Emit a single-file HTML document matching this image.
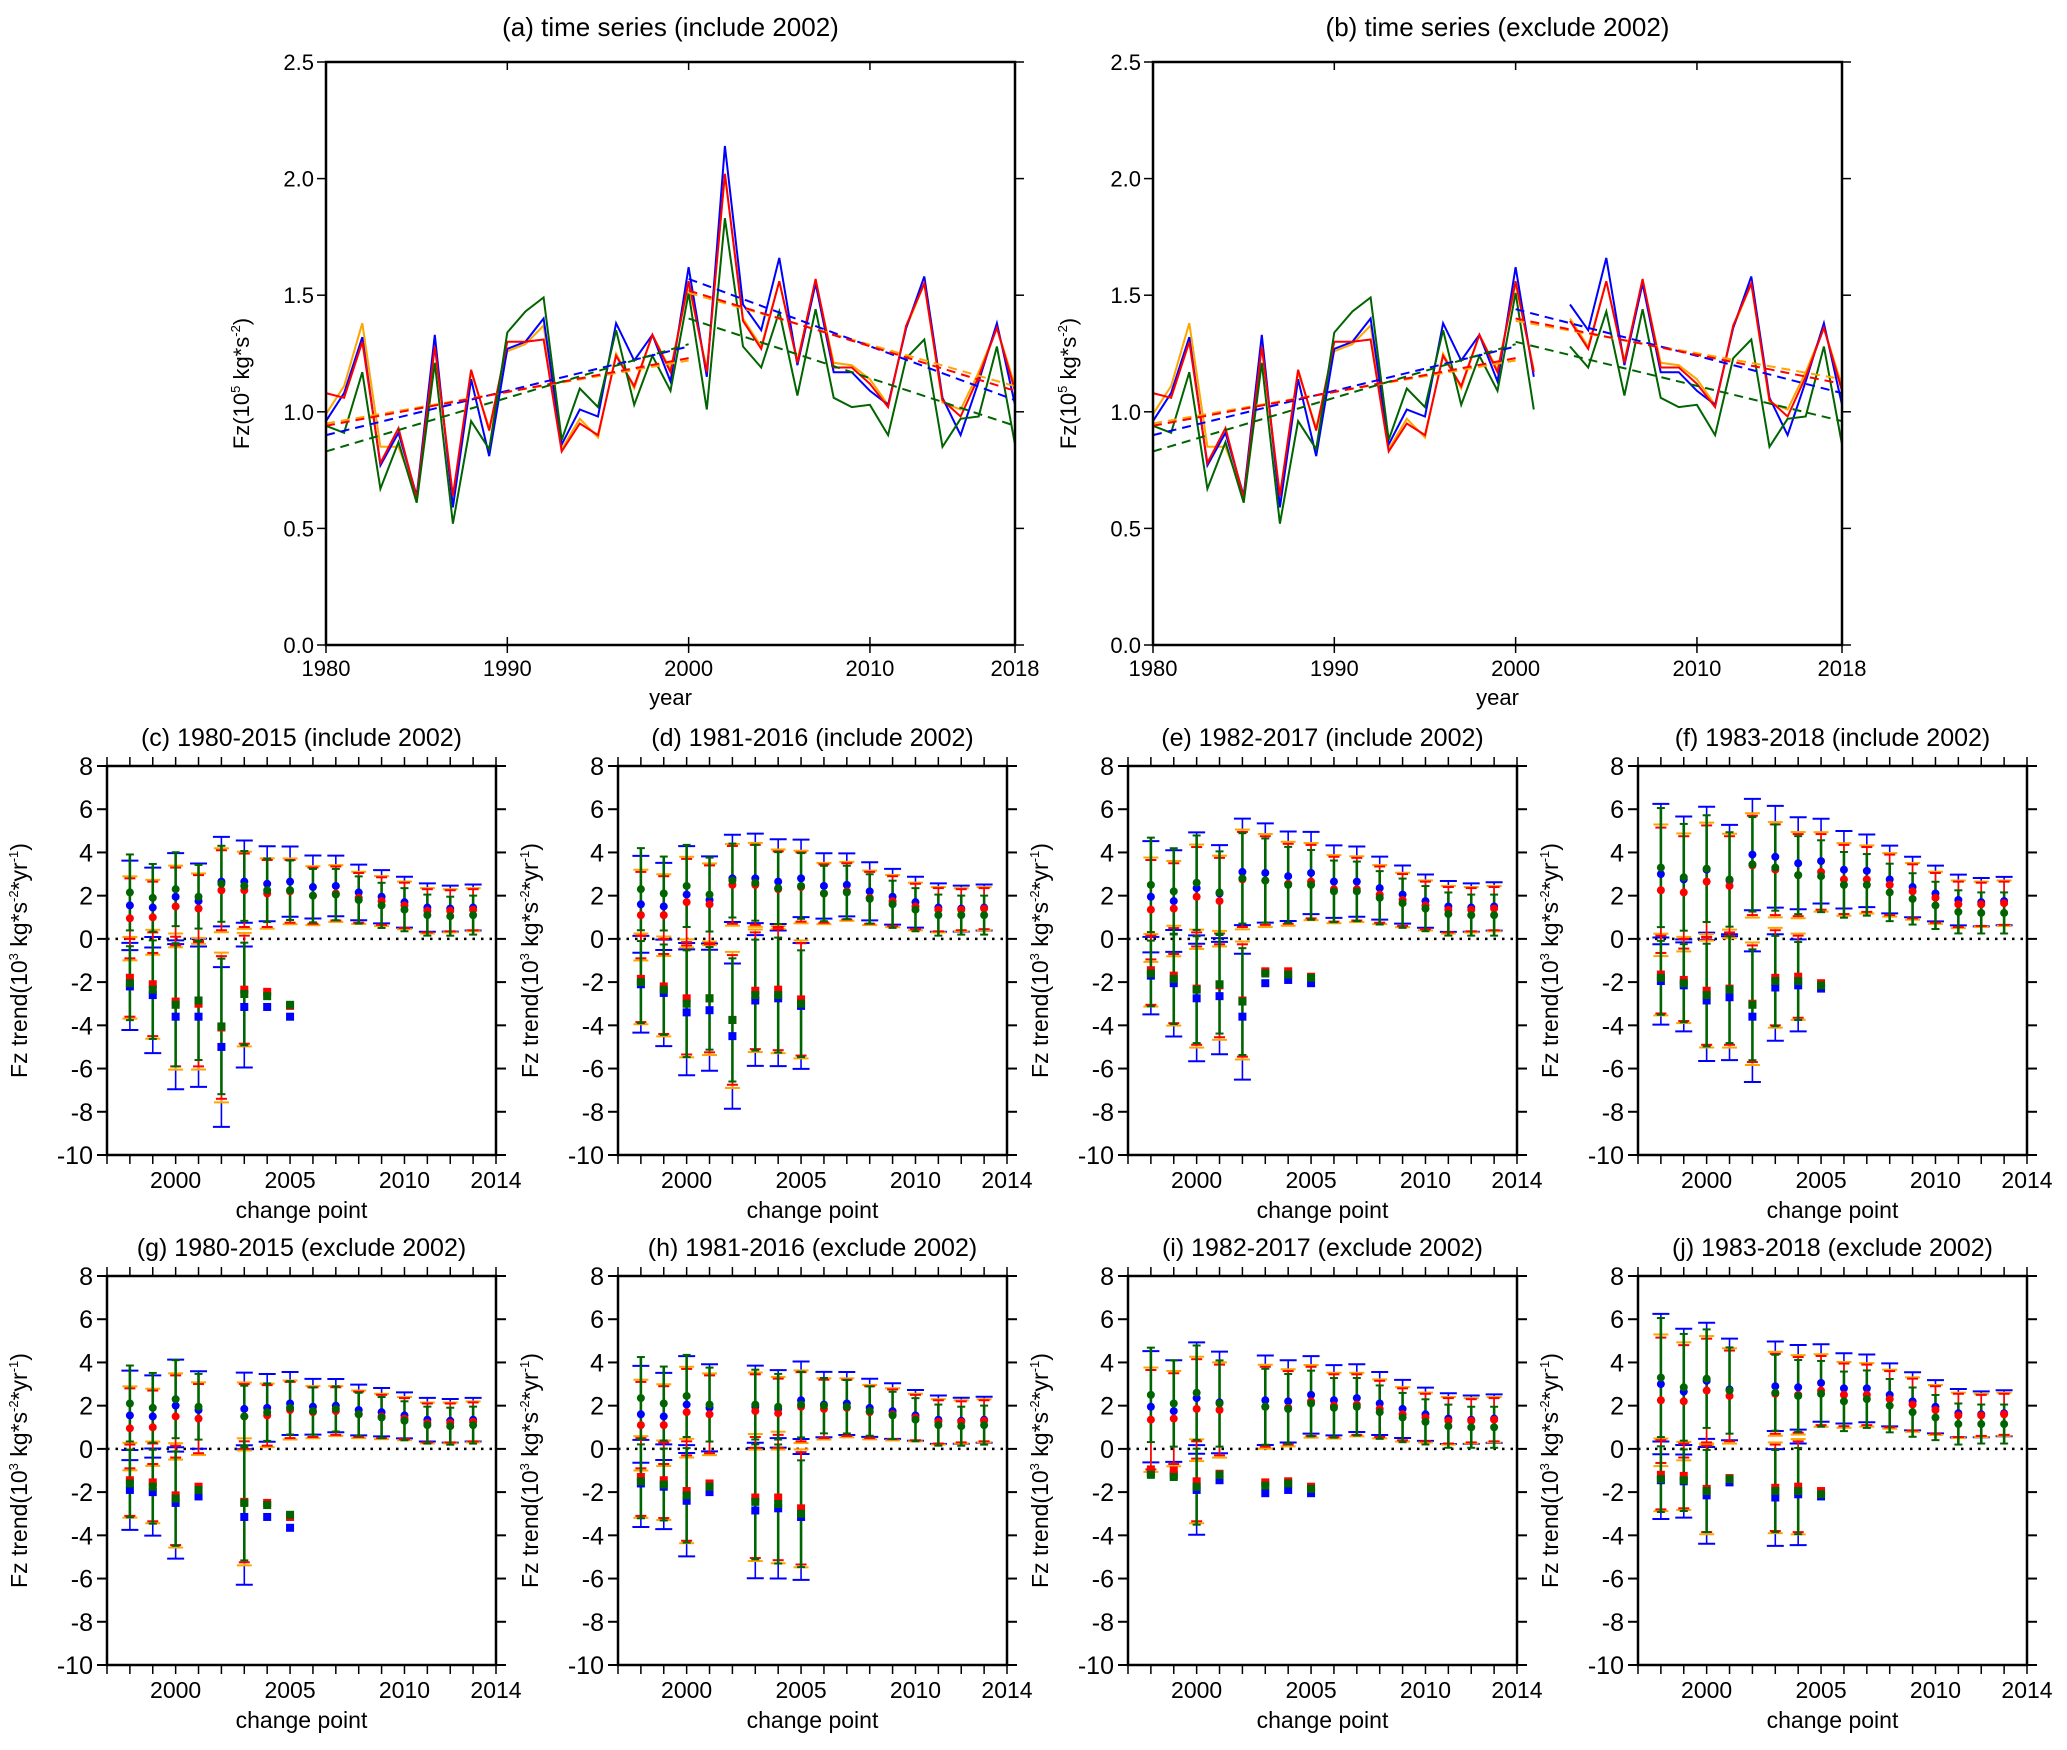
<!DOCTYPE html>
<html><head><meta charset="utf-8"><style>
html,body{margin:0;padding:0;background:#fff;}
svg{display:block;font-family:"Liberation Sans",sans-serif;}
</style></head><body>
<svg id="fig" width="2067" height="1750" viewBox="0 0 2067 1750" xmlns="http://www.w3.org/2000/svg"></svg>
<script>
// ===== Time series data (a)/(b) =====
const years = [1980,1981,1982,1983,1984,1985,1986,1987,1988,1989,1990,1991,1992,1993,1994,1995,1996,1997,1998,1999,2000,2001,2002,2003,2004,2005,2006,2007,2008,2009,2010,2011,2012,2013,2014,2015,2016,2017,2018];
const tsBlue = [0.96,1.08,1.32,0.77,0.91,0.64,1.33,0.59,1.14,0.81,1.27,1.30,1.40,0.86,1.01,0.98,1.38,1.22,1.33,1.13,1.62,1.15,2.14,1.46,1.35,1.66,1.20,1.55,1.17,1.17,1.09,1.03,1.36,1.58,1.06,0.90,1.13,1.38,1.03];
const tsRed = [1.08,1.06,1.30,0.78,0.93,0.63,1.28,0.64,1.18,0.92,1.30,1.30,1.31,0.83,0.95,0.90,1.24,1.11,1.33,1.17,1.56,1.17,2.02,1.39,1.27,1.56,1.21,1.57,1.19,1.19,1.12,1.02,1.37,1.55,1.05,0.98,1.15,1.36,1.09];
const tsOrange = [0.99,1.11,1.38,0.85,0.85,0.64,1.30,0.63,1.17,0.93,1.26,1.29,1.37,0.84,0.97,0.89,1.25,1.10,1.33,1.18,1.55,1.18,2.02,1.40,1.28,1.56,1.22,1.56,1.21,1.20,1.14,1.03,1.36,1.55,1.04,1.01,1.17,1.36,1.11];
const tsGreen = [0.94,0.91,1.17,0.67,0.87,0.61,1.21,0.52,0.96,0.84,1.34,1.43,1.49,0.88,1.10,1.02,1.35,1.03,1.24,1.09,1.51,1.01,1.83,1.28,1.19,1.43,1.07,1.44,1.06,1.02,1.03,0.90,1.23,1.31,0.85,0.97,0.98,1.28,0.86];
// trend segments [x0,y0,x1,y1]
const trendA_blue = [[1980,0.90,2000,1.28],[2000,1.57,2018,1.05]];
const trendA_red = [[1980,0.94,2000,1.23],[2000,1.52,2018,1.09]];
const trendA_orange = [[1980,0.95,2000,1.22],[2000,1.51,2018,1.11]];
const trendA_green = [[1980,0.83,2000,1.29],[2000,1.40,2018,0.94]];
const trendB_blue = [[1980,0.90,2000,1.28],[2000,1.44,2018,1.08]];
const trendB_red = [[1980,0.94,2000,1.23],[2000,1.40,2018,1.12]];
const trendB_orange = [[1980,0.95,2000,1.22],[2000,1.39,2018,1.14]];
const trendB_green = [[1980,0.83,2000,1.29],[2000,1.30,2018,0.96]];
const tsYTicks = [0.0,0.5,1.0,1.5,2.0,2.5];
const tsXTicks = [1980,1990,2000,2010,2018];

// ===== Change-point trend data (c)-(j) =====
const cpX = [1998,1999,2000,2001,2002,2003,2004,2005,2006,2007,2008,2009,2010,2011,2012,2013];
const cpYTicks = [8,6,4,2,0,-2,-4,-6,-8,-10];
const cpXTicks = [2000,2005,2010,2014];
const _ = null;
// (c)
const c_cB=[1.55,1.45,1.95,1.75,2.65,2.65,2.55,2.65,2.4,2.45,2.15,1.95,1.7,1.45,1.4,1.45];
const c_cR=[0.95,1.0,1.5,1.4,2.25,2.25,2.1,2.2,2.0,2.1,1.9,1.75,1.55,1.3,1.3,1.35];
const c_cG=[2.15,1.9,2.3,1.95,2.55,2.45,2.25,2.25,2.0,2.05,1.8,1.55,1.35,1.1,1.05,1.1];
const c_eC=[1.85,1.65,1.8,1.55,1.85,1.7,1.55,1.45,1.3,1.25,1.15,1.1,1.05,1.0,0.95,0.95];
const c_sB=[-2.2,-2.6,-3.6,-3.6,-5.0,-3.15,-3.15,-3.6];
const c_sR=[-1.8,-2.1,-2.9,-3.0,-4.1,-2.35,-2.45,-3.1];
const c_sG=[-2.05,-2.35,-3.05,-2.85,-4.05,-2.55,-2.65,-3.05];
const c_eS=[1.8,2.4,3.0,2.9,3.3,2.5,_,_];
// (d)
const d_cB=[1.6,1.5,2.05,1.8,2.8,2.8,2.65,2.8,2.45,2.5,2.2,1.95,1.7,1.45,1.4,1.45];
const d_cR=[1.1,1.1,1.7,1.6,2.5,2.5,2.3,2.4,2.1,2.2,1.9,1.75,1.5,1.35,1.35,1.4];
const d_cG=[2.3,2.1,2.45,2.05,2.7,2.6,2.35,2.45,2.1,2.15,1.85,1.6,1.35,1.1,1.1,1.1];
const d_eC=[2.0,1.8,2.0,1.8,1.8,1.85,1.75,1.6,1.35,1.3,1.2,1.15,1.05,1.0,0.95,0.95];
const d_sB=[-2.1,-2.5,-3.4,-3.3,-4.5,-2.85,-2.75,-3.1];
const d_sR=[-1.85,-2.2,-2.75,-2.75,-3.75,-2.4,-2.35,-2.8];
const d_sG=[-2.0,-2.35,-3.0,-2.75,-3.75,-2.6,-2.6,-3.0];
const d_eS=[2.0,2.2,2.6,2.5,3.0,2.7,2.8,2.6];
// (e)
const e_cB=[1.95,1.75,2.35,2.1,3.1,3.05,2.9,3.05,2.65,2.65,2.35,2.05,1.75,1.5,1.45,1.5];
const e_cR=[1.35,1.4,1.95,1.75,2.75,2.7,2.55,2.65,2.3,2.3,2.05,1.8,1.55,1.35,1.35,1.4];
const e_cG=[2.5,2.2,2.6,2.15,2.8,2.7,2.5,2.5,2.2,2.2,1.9,1.65,1.4,1.15,1.1,1.1];
const e_eC=[2.3,2.1,2.3,2.0,2.2,2.05,1.85,1.7,1.5,1.45,1.3,1.2,1.1,1.05,1.0,1.0];
const e_sB=[-1.7,-2.05,-2.75,-2.65,-3.6,-2.05,-1.9,-2.05];
const e_sR=[-1.45,-1.7,-2.3,-2.15,-2.85,-1.5,-1.5,-1.75];
const e_sG=[-1.6,-1.85,-2.35,-2.1,-2.9,-1.6,-1.65,-1.8];
const e_eS=[1.6,2.2,2.6,2.4,2.6,_,_,_];
// (f)
const f_cB=[3.0,2.75,3.2,2.7,3.9,3.8,3.5,3.6,3.2,3.15,2.75,2.4,2.1,1.8,1.7,1.75];
const f_cR=[2.25,2.15,2.65,2.45,3.4,3.2,2.95,3.1,2.75,2.75,2.5,2.2,1.9,1.6,1.6,1.65];
const f_cG=[3.3,2.85,3.25,2.75,3.45,3.3,2.95,2.9,2.5,2.5,2.15,1.85,1.55,1.25,1.2,1.2];
const f_eC=[2.9,2.6,2.6,2.3,2.3,2.1,1.9,1.75,1.6,1.5,1.4,1.25,1.15,1.05,1.0,1.0];
const f_sB=[-1.95,-2.15,-2.85,-2.7,-3.6,-2.25,-2.15,-2.3];
const f_sR=[-1.65,-1.9,-2.4,-2.3,-3.0,-1.8,-1.75,-2.05];
const f_sG=[-1.8,-2.05,-2.6,-2.35,-3.05,-1.95,-1.95,-2.15];
const f_eS=[1.8,1.9,2.5,2.6,2.7,2.2,1.9,_];
// (g)
const g_cB=[1.55,1.5,2.0,1.8,_,1.85,1.9,2.1,1.95,2.0,1.8,1.7,1.55,1.35,1.3,1.35];
const g_cR=[0.95,1.0,1.5,1.4,_,1.5,1.55,1.8,1.7,1.75,1.6,1.5,1.4,1.2,1.2,1.25];
const g_cG=[2.1,1.9,2.3,1.95,_,1.5,1.7,1.9,1.75,1.85,1.6,1.45,1.3,1.1,1.05,1.1];
const g_eC=[1.85,1.7,1.9,1.6,_,1.5,1.4,1.3,1.15,1.1,1.05,1.0,0.95,0.9,0.9,0.9];
const g_sB=[-1.9,-2.0,-2.5,-2.2,_,-3.15,-3.15,-3.65];
const g_sR=[-1.45,-1.55,-2.15,-1.75,_,-2.45,-2.5,-3.15];
const g_sG=[-1.6,-1.75,-2.3,-1.9,_,-2.5,-2.6,-3.05];
const g_eS=[1.65,1.8,2.3,_,_,2.8,_,_];
// (h)
const h_cB=[1.6,1.5,2.05,1.9,_,1.95,1.85,2.25,2.05,2.1,1.9,1.75,1.55,1.35,1.3,1.35];
const h_cR=[1.1,1.1,1.7,1.6,_,1.75,1.65,1.95,1.85,1.9,1.7,1.6,1.45,1.25,1.25,1.3];
const h_cG=[2.35,2.1,2.45,2.05,_,2.05,1.95,2.05,2.0,1.95,1.75,1.55,1.35,1.1,1.05,1.1];
const h_eC=[2.0,1.8,2.0,1.8,_,1.7,1.6,1.6,1.35,1.3,1.2,1.15,1.05,1.0,0.95,0.95];
const h_sB=[-1.6,-1.75,-2.4,-2.0,_,-2.85,-2.75,-3.15];
const h_sR=[-1.3,-1.45,-1.95,-1.6,_,-2.25,-2.25,-2.75];
const h_sG=[-1.5,-1.65,-2.15,-1.75,_,-2.45,-2.55,-3.0];
const h_eS=[1.8,1.75,2.3,_,_,2.8,2.9,2.6];
// (i)
const i_cB=[1.95,1.75,2.35,2.15,_,2.25,2.2,2.5,2.25,2.35,2.1,1.85,1.6,1.4,1.35,1.4];
const i_cR=[1.35,1.4,1.85,1.8,_,1.95,1.9,2.2,2.0,2.05,1.85,1.6,1.45,1.3,1.3,1.35];
const i_cG=[2.5,2.1,2.6,2.1,_,1.95,1.85,2.1,1.9,1.95,1.7,1.45,1.25,1.05,1.0,1.0];
const i_eC=[2.3,2.1,2.3,2.1,_,1.85,1.7,1.6,1.45,1.4,1.3,1.2,1.1,1.05,1.0,1.0];
const i_sB=[-1.1,-1.2,-1.9,-1.45,_,-2.05,-1.9,-2.05];
const i_sR=[-0.95,-1.0,-1.5,-1.15,_,-1.55,-1.5,-1.75];
const i_sG=[-1.2,-1.3,-1.75,-1.2,_,-1.7,-1.6,-1.85];
const i_eS=[_,_,1.85,_,_,_,_,_];
// (j)
const j_cB=[3.0,2.65,3.15,2.75,_,2.9,2.85,3.05,2.8,2.8,2.5,2.2,1.95,1.65,1.6,1.65];
const j_cR=[2.25,2.2,2.7,2.45,_,2.55,2.5,2.7,2.5,2.5,2.3,2.05,1.8,1.55,1.55,1.6];
const j_cG=[3.3,2.85,3.25,2.7,_,2.6,2.45,2.55,2.2,2.3,2.0,1.7,1.45,1.15,1.15,1.15];
const j_eC=[2.9,2.6,2.4,2.1,_,1.85,1.75,1.6,1.45,1.4,1.3,1.2,1.1,1.0,0.95,0.95];
const j_sB=[-1.45,-1.5,-2.15,-1.55,_,-2.25,-2.1,-2.2];
const j_sR=[-1.2,-1.25,-1.85,-1.35,_,-1.8,-1.75,-1.95];
const j_sG=[-1.4,-1.45,-1.95,-1.4,_,-1.95,-1.95,-2.1];
const j_eS=[1.6,1.5,2.0,_,_,2.0,2.1,_];

const NS="http://www.w3.org/2000/svg";
const svg=document.getElementById('fig');
const COL={b:'#0000ff',r:'#ff0000',o:'#ffa500',g:'#006400'};
function mk(tag,attrs,parent){const e=document.createElementNS(NS,tag);for(const k in attrs)e.setAttribute(k,attrs[k]);(parent||svg).appendChild(e);return e;}
function txt(s,x,y,size,parent,anchor,rot){const t=mk('text',{x:x,y:y,'font-size':size,'text-anchor':anchor||'middle',fill:'#000'},parent);if(rot)t.setAttribute('transform','rotate(-90 '+x+' '+y+')');t.textContent=s;return t;}

// ---------- Time series panels ----------
function tsPanel(id,L,R,T,B,title,exclude,tr){
  const g=mk('g',{});
  
  
  const sx=v=>L+(v-1980)/(2018-1980)*(R-L);
  const sy=v=>B-(v/2.5)*(B-T);
  const t=txt(title,(L+R)/2,36,26,g);
  
  
  // ticks
  tsYTicks.forEach(v=>{const y=sy(v);mk('line',{x1:L-9,x2:L,y1:y,y2:y,stroke:'#000','stroke-width':1.5},g);mk('line',{x1:R,x2:R+9,y1:y,y2:y,stroke:'#000','stroke-width':1.5},g);
    const lb=txt(v.toFixed(1),L-12,y+8,22,g,'end');});
  tsXTicks.forEach(v=>{const x=sx(v);mk('line',{x1:x,x2:x,y1:B,y2:B+8,stroke:'#000','stroke-width':1.5},g);mk('line',{x1:x,x2:x,y1:B-8,y2:B,stroke:'#000','stroke-width':1.5},g);mk('line',{x1:x,x2:x,y1:T,y2:T+8,stroke:'#000','stroke-width':1.5},g);
    const lb=txt(String(v),x,B+31,22,g);});
  const xl=txt('year',(L+R)/2,B+60,22,g);
  const yl=mk('text',{x:L-77,y:(T+B)/2+30,'font-size':22,'text-anchor':'middle',transform:'rotate(-90 '+(L-77)+' '+((T+B)/2+30)+')'},g);
  
  yl.innerHTML='Fz(10<tspan font-size="13" dy="-9">5</tspan><tspan dy="9"> kg*s</tspan><tspan font-size="13" dy="-9">-2</tspan><tspan dy="9">)</tspan>';
  const series=[['o',tsOrange],['b',tsBlue],['r',tsRed],['g',tsGreen]];
  series.forEach(([c,arr])=>{
    const segs=[[]];
    years.forEach((yr,i)=>{ if(exclude && yr===2002){segs.push([]);return;} segs[segs.length-1].push(sx(yr).toFixed(1)+','+sy(arr[i]).toFixed(1)); });
    segs.forEach(s=>{ if(s.length<2)return; const p=mk('polyline',{points:s.join(' '),fill:'none',stroke:COL[c],'stroke-width':2},g);
      });
  });
  [['o',tr[0]],['b',tr[1]],['r',tr[2]],['g',tr[3]]].forEach(([c,segs])=>{
    segs.forEach(s=>{const l=mk('line',{x1:sx(s[0]),y1:sy(s[1]),x2:sx(s[2]),y2:sy(s[3]),stroke:COL[c],'stroke-width':2,'stroke-dasharray':'9,6'},g);
      });
  });
  mk('rect',{x:L,y:T,width:R-L,height:B-T,fill:'none',stroke:'#000','stroke-width':2.5},g);
}
tsPanel('a',326,1015,62,645,'(a) time series (include 2002)',false,[trendA_orange,trendA_blue,trendA_red,trendA_green]);
tsPanel('b',1153,1842,62,645,'(b) time series (exclude 2002)',true,[trendB_orange,trendB_blue,trendB_red,trendB_green]);

// ---------- Change point panels ----------
function cpPanel(id,L,T,title,D){
  const W=389,H=389,R=L+W,B=T+H;
  const g=mk('g',{});
  
  
  const sx=v=>L+(v-1997)/(2014-1997)*W;
  const sy=v=>T+(8-v)/18*H;
  const t=txt(title,L+W/2,T-20,25,g);
  
  cpYTicks.forEach(v=>{const y=sy(v);mk('line',{x1:L-10,x2:L,y1:y,y2:y,stroke:'#000','stroke-width':2},g);mk('line',{x1:R,x2:R+10,y1:y,y2:y,stroke:'#000','stroke-width':2},g);
    const lb=txt(String(v),L-14,y+9,25,g,'end');});
  for(let yr=1997;yr<=2014;yr++){const x=sx(yr);mk('line',{x1:x,x2:x,y1:B,y2:B+9,stroke:'#000','stroke-width':1.5},g);mk('line',{x1:x,x2:x,y1:T-9,y2:T,stroke:'#000','stroke-width':1.5},g);}
  cpXTicks.forEach(v=>{const lb=txt(String(v),sx(v),B+33,23,g);});
  const xl=txt('change point',L+W/2,B+63,23,g);
  const yx=L-80,yy=T+H/2;
  const yl=mk('text',{x:yx,y:yy,'font-size':23,'text-anchor':'middle',transform:'rotate(-90 '+yx+' '+yy+')'},g);
  
  yl.innerHTML='Fz trend(10<tspan font-size="13" dy="-9">3</tspan><tspan dy="9"> kg*s</tspan><tspan font-size="13" dy="-9">-2</tspan><tspan dy="9">*yr</tspan><tspan font-size="13" dy="-9">-1</tspan><tspan dy="9">)</tspan>';
  // zero line
  mk('line',{x1:L,x2:R,y1:sy(0),y2:sy(0),stroke:'#000','stroke-width':2.5,'stroke-dasharray':'2.5,6'},g);
  const cap={b:17,o:15,r:11,g:8}, lw={b:1.6,o:1.6,r:1.6,g:2.6};
  function bar(c,x,v,e){if(v==null||e==null)return;const px=sx(x),y1=sy(v+e),y2=sy(v-e);
    const gg=mk('g',{},g);
    
    mk('line',{x1:px,x2:px,y1:y1,y2:y2,stroke:COL[c],'stroke-width':lw[c]},gg);
    mk('line',{x1:px-cap[c]/2,x2:px+cap[c]/2,y1:y1,y2:y1,stroke:COL[c],'stroke-width':2},gg);
    mk('line',{x1:px-cap[c]/2,x2:px+cap[c]/2,y1:y2,y2:y2,stroke:COL[c],'stroke-width':2},gg);}
  const sets=[['b',D.cB,D.sB,1.12],['o',D.cR,D.sR,1.05],['r',D.cR,D.sR,1.0],['g',D.cG,D.sG,0.95]];
  sets.forEach(([c,cv,sv,k])=>{
    cpX.forEach((x,i)=>{ if(D.eC[i]!=null) bar(c,x,cv[i],D.eC[i]*k); });
    cpX.slice(0,8).forEach((x,i)=>{ if(D.eS[i]!=null) bar(c,x,sv[i],D.eS[i]*k); });
  });
  [['b',D.cB,D.sB],['r',D.cR,D.sR],['g',D.cG,D.sG]].forEach(([c,cv,sv])=>{
    cpX.forEach((x,i)=>{ if(cv[i]==null)return; const m=mk('circle',{cx:sx(x),cy:sy(cv[i]),r:4,fill:COL[c]},g);
      });
    cpX.slice(0,8).forEach((x,i)=>{ if(sv[i]==null)return; const m=mk('rect',{x:sx(x)-4,y:sy(sv[i])-4,width:8,height:8,fill:COL[c]},g);
      });
  });
  mk('rect',{x:L,y:T,width:W,height:H,fill:'none',stroke:'#000','stroke-width':2.5},g);
}
const rows=[766,1276], cols=[107,618,1128,1638];
cpPanel('c',cols[0],rows[0],'(c) 1980-2015 (include 2002)',{cB:c_cB,cR:c_cR,cG:c_cG,eC:c_eC,sB:c_sB,sR:c_sR,sG:c_sG,eS:c_eS});
cpPanel('d',cols[1],rows[0],'(d) 1981-2016 (include 2002)',{cB:d_cB,cR:d_cR,cG:d_cG,eC:d_eC,sB:d_sB,sR:d_sR,sG:d_sG,eS:d_eS});
cpPanel('e',cols[2],rows[0],'(e) 1982-2017 (include 2002)',{cB:e_cB,cR:e_cR,cG:e_cG,eC:e_eC,sB:e_sB,sR:e_sR,sG:e_sG,eS:e_eS});
cpPanel('f',cols[3],rows[0],'(f) 1983-2018 (include 2002)',{cB:f_cB,cR:f_cR,cG:f_cG,eC:f_eC,sB:f_sB,sR:f_sR,sG:f_sG,eS:f_eS});
cpPanel('g',cols[0],rows[1],'(g) 1980-2015 (exclude 2002)',{cB:g_cB,cR:g_cR,cG:g_cG,eC:g_eC,sB:g_sB,sR:g_sR,sG:g_sG,eS:g_eS});
cpPanel('h',cols[1],rows[1],'(h) 1981-2016 (exclude 2002)',{cB:h_cB,cR:h_cR,cG:h_cG,eC:h_eC,sB:h_sB,sR:h_sR,sG:h_sG,eS:h_eS});
cpPanel('i',cols[2],rows[1],'(i) 1982-2017 (exclude 2002)',{cB:i_cB,cR:i_cR,cG:i_cG,eC:i_eC,sB:i_sB,sR:i_sR,sG:i_sG,eS:i_eS});
cpPanel('j',cols[3],rows[1],'(j) 1983-2018 (exclude 2002)',{cB:j_cB,cR:j_cR,cG:j_cG,eC:j_eC,sB:j_sB,sR:j_sR,sG:j_sG,eS:j_eS});
</script>
</body></html>
